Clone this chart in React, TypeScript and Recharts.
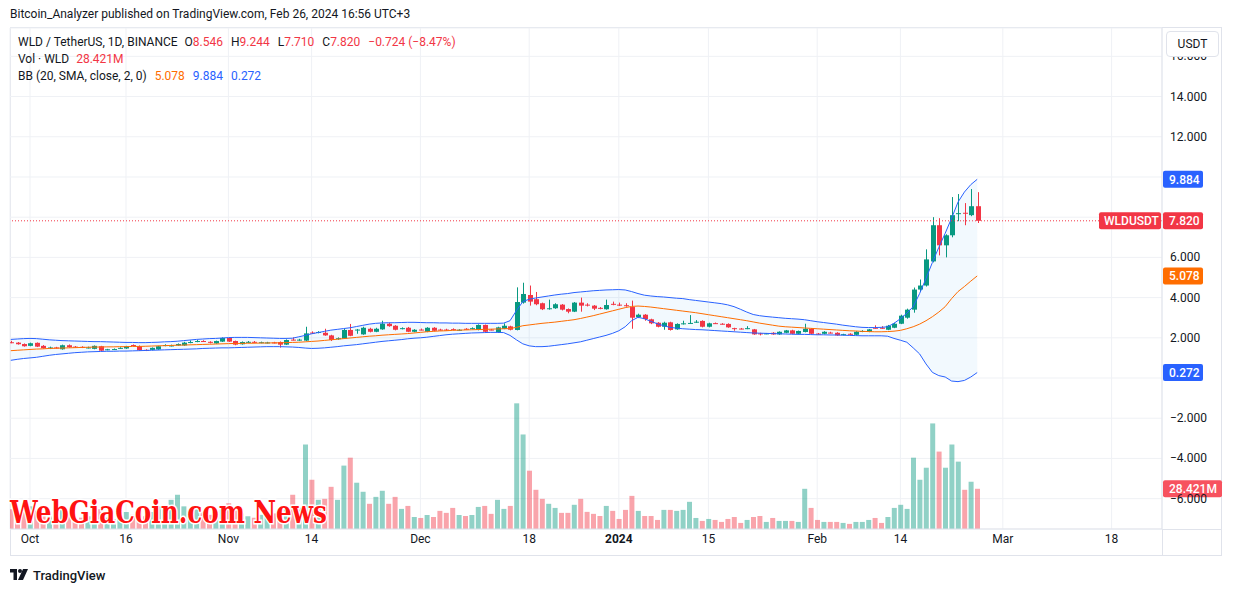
import React from "react";
import { ComposedChart, Bar, Line, Area, XAxis, YAxis, CartesianGrid, ReferenceLine, Cell } from "recharts";

// WLD/USDT daily, first candle = Sep 28 2023 (index 0), last = Feb 26 2024 (index 151)
// [open, high, low, close]
const ohlc: [number, number, number, number][] = [
  [1.78, 1.85, 1.73, 1.75], [1.76, 1.79, 1.66, 1.68], [1.69, 1.72, 1.56, 1.58], [1.60, 1.76, 1.58, 1.73], [1.75, 1.77, 1.54, 1.56],
  [1.60, 1.64, 1.46, 1.48], [1.49, 1.56, 1.44, 1.52], [1.52, 1.55, 1.47, 1.50], [1.43, 1.66, 1.41, 1.63], [1.63, 1.67, 1.51, 1.53],
  [1.56, 1.59, 1.51, 1.54], [1.55, 1.58, 1.49, 1.52], [1.50, 1.56, 1.47, 1.52], [1.45, 1.62, 1.43, 1.60], [1.58, 1.60, 1.34, 1.36],
  [1.41, 1.45, 1.38, 1.43], [1.42, 1.47, 1.40, 1.44], [1.48, 1.53, 1.45, 1.50], [1.47, 1.60, 1.45, 1.58], [1.64, 1.67, 1.60, 1.62],
  [1.58, 1.62, 1.36, 1.38], [1.40, 1.43, 1.34, 1.38], [1.40, 1.52, 1.38, 1.50], [1.42, 1.60, 1.40, 1.58], [1.62, 1.68, 1.58, 1.64],
  [1.60, 1.66, 1.57, 1.62], [1.62, 1.72, 1.60, 1.69], [1.62, 1.80, 1.60, 1.76], [1.77, 1.87, 1.73, 1.79], [1.82, 1.89, 1.78, 1.84],
  [1.84, 1.88, 1.80, 1.82], [1.80, 1.83, 1.72, 1.75], [1.72, 1.86, 1.70, 1.84], [1.81, 2.02, 1.79, 1.99], [1.99, 2.01, 1.79, 1.81],
  [1.84, 1.86, 1.63, 1.66], [1.68, 1.82, 1.66, 1.79], [1.78, 1.84, 1.75, 1.80], [1.80, 1.84, 1.75, 1.78], [1.76, 1.81, 1.73, 1.78],
  [1.75, 1.80, 1.72, 1.77], [1.77, 1.80, 1.72, 1.75], [1.79, 1.82, 1.51, 1.66], [1.66, 1.92, 1.64, 1.89], [1.91, 2.02, 1.87, 1.89],
  [1.88, 1.95, 1.85, 1.91], [1.86, 2.55, 1.84, 2.22], [2.26, 2.32, 2.19, 2.24], [2.27, 2.33, 2.22, 2.29], [2.25, 2.45, 2.10, 2.12],
  [2.12, 2.15, 1.84, 1.89], [1.95, 2.02, 1.90, 1.98], [1.96, 2.44, 1.94, 2.39], [2.39, 2.69, 2.08, 2.10], [2.39, 2.44, 2.20, 2.41],
  [2.17, 2.55, 2.15, 2.50], [2.45, 2.50, 2.27, 2.30], [2.30, 2.50, 2.28, 2.45], [2.42, 2.85, 2.40, 2.70], [2.70, 2.74, 2.55, 2.58],
  [2.60, 2.63, 2.37, 2.40], [2.45, 2.52, 2.42, 2.48], [2.50, 2.54, 2.28, 2.30], [2.30, 2.43, 2.28, 2.40], [2.41, 2.46, 2.37, 2.39],
  [2.30, 2.53, 2.28, 2.50], [2.50, 2.53, 2.33, 2.35], [2.41, 2.45, 2.37, 2.39], [2.41, 2.45, 2.36, 2.39], [2.43, 2.47, 2.38, 2.41],
  [2.38, 2.43, 2.35, 2.40], [2.45, 2.48, 2.41, 2.43], [2.45, 2.52, 2.43, 2.48], [2.39, 2.67, 2.37, 2.64], [2.64, 2.66, 2.26, 2.30],
  [2.41, 2.44, 2.37, 2.39], [2.27, 2.55, 2.25, 2.52], [2.45, 2.72, 2.43, 2.60], [2.57, 2.60, 2.37, 2.40], [2.39, 4.51, 2.37, 3.78],
  [3.75, 4.74, 3.70, 4.18], [4.13, 4.60, 3.60, 3.80], [3.92, 4.28, 3.62, 3.67], [3.72, 3.75, 3.38, 3.42], [3.45, 3.90, 3.40, 3.47],
  [3.47, 3.72, 3.44, 3.67], [3.65, 3.68, 3.36, 3.40], [3.43, 3.46, 3.22, 3.30], [3.30, 3.78, 3.28, 3.75], [3.75, 4.00, 3.30, 3.60],
  [3.65, 3.72, 3.56, 3.63], [3.60, 3.63, 3.38, 3.45], [3.49, 3.53, 3.42, 3.47], [3.42, 3.90, 3.40, 3.63], [3.69, 3.80, 3.62, 3.67],
  [3.65, 3.75, 3.58, 3.63], [3.62, 3.72, 3.55, 3.60], [3.53, 3.85, 2.45, 3.00], [3.02, 3.20, 2.98, 3.15], [3.15, 3.18, 2.85, 2.93],
  [2.92, 2.95, 2.68, 2.72], [2.75, 2.78, 2.52, 2.55], [2.55, 2.80, 2.40, 2.75], [2.77, 2.80, 2.36, 2.39], [2.42, 2.72, 2.40, 2.69],
  [2.70, 2.85, 2.66, 2.72], [2.72, 3.13, 2.69, 2.74], [2.78, 2.88, 2.74, 2.80], [2.84, 2.87, 2.52, 2.55], [2.55, 2.75, 2.52, 2.72],
  [2.73, 2.76, 2.69, 2.71], [2.70, 2.73, 2.66, 2.68], [2.69, 2.72, 2.50, 2.52], [2.48, 2.50, 2.35, 2.46], [2.46, 2.49, 2.42, 2.44],
  [2.46, 2.58, 2.43, 2.48], [2.42, 2.44, 2.15, 2.17], [2.22, 2.25, 2.12, 2.20], [2.20, 2.24, 2.18, 2.22], [2.25, 2.28, 2.15, 2.17],
  [2.17, 2.32, 2.15, 2.30], [2.25, 2.39, 2.23, 2.37], [2.37, 2.40, 2.18, 2.20], [2.20, 2.36, 2.18, 2.34], [2.29, 2.70, 2.27, 2.45],
  [2.45, 2.48, 2.18, 2.20], [2.21, 2.24, 2.17, 2.19], [2.20, 2.33, 2.18, 2.30], [2.26, 2.30, 2.22, 2.24], [2.25, 2.28, 2.10, 2.12],
  [2.16, 2.20, 2.13, 2.18], [2.20, 2.23, 2.15, 2.18], [2.15, 2.33, 2.13, 2.30], [2.32, 2.38, 2.28, 2.34], [2.30, 2.44, 2.28, 2.42],
  [2.50, 2.62, 2.46, 2.48], [2.50, 2.58, 2.45, 2.48], [2.40, 2.64, 2.38, 2.60], [2.50, 2.75, 2.48, 2.70], [2.70, 3.15, 2.68, 3.10],
  [3.00, 3.45, 2.95, 3.40], [3.40, 4.50, 3.25, 4.40], [4.40, 4.90, 4.30, 4.60], [4.60, 6.40, 4.55, 5.90], [5.80, 8.00, 5.75, 7.60],
  [7.60, 7.95, 6.10, 6.60], [6.60, 7.15, 6.00, 7.10], [7.10, 9.00, 7.00, 8.10], [8.15, 9.15, 7.80, 8.20], [8.22, 8.70, 7.60, 8.17],
  [8.10, 9.40, 8.05, 8.546], [8.546, 9.244, 7.71, 7.82],
];

// volume, millions of WLD
const volume = [
  14, 11, 12, 16, 13, 12, 9, 8, 15, 11,
  7, 8, 9, 12, 14, 8, 7, 9, 12, 10,
  13, 9, 12, 16, 14, 20.6, 24.2, 16, 13, 14,
  12, 10, 13, 15, 18.2, 13, 11, 9, 8, 10,
  9, 11, 13, 15, 24.2, 15, 59.7, 34.8, 20.6, 21.3,
  29.8, 20.6, 44.8, 50.4, 32.7, 26.3, 17.8, 22.7, 27.0, 17.8,
  22.7, 14.2, 16.3, 8.5, 7.8, 9.9, 8.5, 12.8, 11.4, 14.9,
  9.9, 9.2, 9.9, 15.6, 16.3, 10.7, 20.6, 14.2, 16.3, 88.8,
  66.8, 41.2, 27.7, 21.3, 17.8, 14.9, 11.4, 11.4, 17.1, 21.3,
  12.1, 10.7, 9.2, 16.3, 12.8, 7.1, 13.5, 23.4, 12.8, 9.2,
  9.2, 6.4, 13.5, 13.5, 12.8, 13.5, 19.2, 7.8, 5.7, 7.1,
  6.4, 5.0, 7.1, 8.5, 4.3, 6.4, 8.5, 9.2, 5.0, 7.8,
  5.7, 5.7, 5.7, 5.0, 28.4, 14.9, 6.4, 5.0, 5.0, 5.0,
  4.3, 3.6, 5.0, 5.0, 6.4, 7.8, 4.3, 8.5, 14.9, 17.1,
  14.2, 50.4, 34.8, 43.3, 74.6, 54.7, 43.3, 59.7, 47.6, 27.7,
  33.4, 28.421,
];

const bbUpper = [
  1.92, 1.94, 1.96, 1.97, 1.96, 1.93, 1.90, 1.88, 1.86, 1.85,
  1.84, 1.83, 1.82, 1.81, 1.81, 1.80, 1.79, 1.78, 1.77, 1.77,
  1.76, 1.76, 1.77, 1.78, 1.80, 1.81, 1.83, 1.86, 1.89, 1.92,
  1.94, 1.96, 1.97, 1.99, 2.01, 2.02, 2.02, 2.02, 2.01, 2.00,
  1.99, 1.98, 1.97, 1.97, 1.98, 2.05, 2.12, 2.20, 2.26, 2.32,
  2.38, 2.42, 2.46, 2.50, 2.56, 2.62, 2.68, 2.72, 2.74, 2.75,
  2.75, 2.76, 2.77, 2.77, 2.76, 2.75, 2.75, 2.74, 2.74, 2.73,
  2.73, 2.72, 2.72, 2.72, 2.72, 2.72, 2.72, 2.73, 2.85, 3.35,
  3.80, 3.92, 3.98, 4.03, 4.08, 4.13, 4.17, 4.20, 4.25, 4.28,
  4.31, 4.34, 4.36, 4.38, 4.39, 4.40, 4.38, 4.30, 4.20, 4.12,
  4.08, 4.05, 4.03, 4.00, 3.97, 3.95, 3.90, 3.86, 3.82, 3.78,
  3.74, 3.70, 3.64, 3.55, 3.42, 3.28, 3.16, 3.10, 3.06, 3.03,
  3.00, 2.97, 2.95, 2.93, 2.90, 2.85, 2.80, 2.76, 2.72, 2.68,
  2.63, 2.59, 2.55, 2.52, 2.51, 2.51, 2.52, 2.55, 2.72, 2.95,
  3.22, 3.55, 4.20, 4.95, 5.75, 6.50, 7.20, 7.95, 8.75, 9.25,
  9.62, 9.884,
];

const bbBasis = [
  1.36, 1.38, 1.40, 1.42, 1.44, 1.45, 1.47, 1.48, 1.49, 1.50,
  1.51, 1.52, 1.53, 1.54, 1.54, 1.55, 1.55, 1.56, 1.56, 1.57,
  1.57, 1.58, 1.59, 1.60, 1.61, 1.62, 1.63, 1.64, 1.65, 1.66,
  1.67, 1.68, 1.69, 1.70, 1.71, 1.72, 1.72, 1.73, 1.73, 1.74,
  1.74, 1.75, 1.75, 1.76, 1.77, 1.78, 1.80, 1.82, 1.84, 1.87,
  1.90, 1.93, 1.96, 1.99, 2.02, 2.05, 2.08, 2.10, 2.13, 2.15,
  2.17, 2.19, 2.21, 2.24, 2.27, 2.30, 2.32, 2.34, 2.35, 2.37,
  2.38, 2.39, 2.40, 2.41, 2.42, 2.43, 2.44, 2.45, 2.46, 2.52,
  2.60, 2.64, 2.68, 2.72, 2.75, 2.78, 2.82, 2.86, 2.90, 2.96,
  3.03, 3.10, 3.18, 3.26, 3.34, 3.42, 3.50, 3.56, 3.58, 3.56,
  3.53, 3.49, 3.45, 3.41, 3.37, 3.33, 3.29, 3.25, 3.20, 3.15,
  3.10, 3.05, 3.00, 2.95, 2.90, 2.85, 2.79, 2.73, 2.68, 2.63,
  2.58, 2.55, 2.53, 2.51, 2.49, 2.47, 2.45, 2.43, 2.41, 2.39,
  2.37, 2.35, 2.34, 2.32, 2.31, 2.30, 2.30, 2.31, 2.33, 2.37,
  2.45, 2.55, 2.68, 2.85, 3.05, 3.28, 3.55, 3.95, 4.30, 4.55,
  4.82, 5.078,
];

const bbLower = [
  0.88, 0.93, 0.97, 1.00, 1.03, 1.08, 1.13, 1.17, 1.20, 1.23,
  1.26, 1.28, 1.30, 1.31, 1.32, 1.33, 1.33, 1.34, 1.34, 1.35,
  1.36, 1.37, 1.38, 1.39, 1.40, 1.41, 1.42, 1.43, 1.44, 1.45,
  1.47, 1.48, 1.49, 1.50, 1.50, 1.51, 1.52, 1.53, 1.54, 1.55,
  1.56, 1.56, 1.56, 1.55, 1.54, 1.52, 1.49, 1.47, 1.48, 1.50,
  1.53, 1.56, 1.60, 1.63, 1.66, 1.70, 1.74, 1.78, 1.82, 1.85,
  1.88, 1.91, 1.95, 1.98, 2.00, 2.03, 2.07, 2.11, 2.15, 2.18,
  2.20, 2.22, 2.24, 2.25, 2.26, 2.27, 2.27, 2.26, 2.12, 1.90,
  1.70, 1.60, 1.56, 1.56, 1.58, 1.62, 1.66, 1.70, 1.75, 1.80,
  1.88, 1.96, 2.04, 2.12, 2.22, 2.35, 2.55, 2.85, 3.02, 2.95,
  2.82, 2.70, 2.60, 2.52, 2.48, 2.45, 2.43, 2.41, 2.40, 2.38,
  2.36, 2.34, 2.32, 2.30, 2.28, 2.26, 2.24, 2.23, 2.22, 2.21,
  2.20, 2.19, 2.18, 2.17, 2.17, 2.16, 2.15, 2.15, 2.14, 2.14,
  2.13, 2.12, 2.11, 2.10, 2.10, 2.10, 2.10, 2.08, 1.97, 1.88,
  1.78, 1.50, 1.20, 0.70, 0.28, 0.12, 0.05, -0.15, -0.18, -0.12,
  0.05, 0.272,
];

// x-axis: candle index of each labelled date
const dateTicks = [3, 18, 34, 47, 64, 81, 95, 109, 126, 139, 155, 172];
const dateLabels = ["Oct", "16", "Nov", "14", "Dec", "18", "2024", "15", "Feb", "14", "Mar", "18"];
const priceTicks = [-6, -4, -2, 0, 2, 4, 6, 8, 10, 12, 14, 16];

const UP = "#089981";
const DOWN = "#f23645";
const BLUE = "#2962ff";
const ORANGE = "#ff6d00";
const FONT = "Roboto, 'Noto Sans', sans-serif";

const last = ohlc.length - 1;
const lastClose = ohlc[last][3];
const lastVol = volume[last];
// price tags on the right scale hide the tick labels they sit on
const tagValues = [lastClose, bbUpper[last], bbBasis[last], bbLower[last]];

const data = ohlc.map(([o, h, l, c], i) => ({
  i, o, h, l, c,
  hl: [l, h],
  vol: volume[i],
  upper: bbUpper[i],
  basis: bbBasis[i],
  lower: bbLower[i],
  band: [bbLower[i], bbUpper[i]],
}));

function Candle(props: any) {
  const { x, y, width, height, payload } = props;
  const { o, h, l, c } = payload;
  const color = c >= o ? UP : DOWN;
  const top0 = Math.min(y, y + height);
  const span = Math.abs(height);
  const ppu = h > l ? span / (h - l) : 0;
  const cx = Math.round(x + width / 2) + 0.5;
  const bTop = top0 + (h - Math.max(o, c)) * ppu;
  const bBot = top0 + (h - Math.min(o, c)) * ppu;
  return (
    <g>
      <line x1={cx} x2={cx} y1={top0} y2={top0 + span} stroke={color} strokeWidth={1} />
      <rect x={cx - 2.5} y={bTop} width={5} height={Math.max(1, bBot - bTop)} fill={color} />
    </g>
  );
}

function tag(text: string, bg: string, w = 40) {
  return (props: any) => {
    const vb = props.viewBox || {};
    const x = vb.x + vb.width + 1;
    const y = vb.y;
    return (
      <g>
        <rect x={x} y={y - 8.5} width={w} height={17} rx={2} fill={bg} />
        <text x={x + 6} y={y + 4.5} fill="#fff" fontSize={12} fontFamily={FONT} fontWeight={500}>{text}</text>
      </g>
    );
  };
}

function lastPriceTag(props: any) {
  const vb = props.viewBox || {};
  const right = vb.x + vb.width;
  const y = vb.y;
  return (
    <g>
      <rect x={right - 63} y={y - 8.5} width={62} height={17} rx={2} fill={DOWN} />
      <text x={right - 58} y={y + 4.5} fill="#fff" fontSize={12} fontFamily={FONT} fontWeight={500}>WLDUSDT</text>
      <rect x={right + 1} y={y - 8.5} width={40} height={17} rx={2} fill={DOWN} />
      <text x={right + 7} y={y + 4.5} fill="#fff" fontSize={12} fontFamily={FONT} fontWeight={500}>{lastClose.toFixed(3)}</text>
    </g>
  );
}

function PriceTick(props: any) {
  const { x, y, payload } = props;
  const v = payload.value;
  if (tagValues.some((t) => Math.abs(t - v) < 0.5)) return <g />;
  const s = (v < 0 ? "\u2212" : "") + Math.abs(v).toFixed(3);
  return (
    <text x={x} y={y + 4} fontSize={12} fill="#131722" fontFamily={FONT} textAnchor="start">{s}</text>
  );
}

function DateTick(props: any) {
  const { x, y, payload } = props;
  const k = dateTicks.indexOf(payload.value);
  const label = dateLabels[k];
  return (
    <text x={x} y={y + 4} fontSize={12} fill="#131722" fontFamily={FONT} textAnchor="middle"
      fontWeight={label === "2024" ? 700 : 400}>{label}</text>
  );
}

const xDomain = [-0.125, 179.875];

export default function App() {
  return (
    <div style={{ position: "absolute", left: 0, top: 0, width: 1233, height: 592, background: "#fff", fontFamily: FONT, color: "#131722", overflow: "hidden" }}>
      <div style={{ position: "absolute", left: 10, top: 7, fontSize: 12, whiteSpace: "nowrap" }}>
        Bitcoin_Analyzer published on TradingView.com, Feb 26, 2024 16:56 UTC+3
      </div>
      {/* frame */}
      <div style={{ position: "absolute", left: 10, top: 27, width: 1212, height: 529, border: "1px solid #e0e3eb", boxSizing: "border-box" }} />
      <div style={{ position: "absolute", left: 1162, top: 529, width: 60, height: 1, background: "#e0e3eb" }} />
      <div style={{ position: "absolute", left: 1162, top: 529, width: 1, height: 27, background: "#e0e3eb" }} />

      <div style={{ position: "absolute", left: 0, top: 0 }}>
        <ComposedChart width={1233} height={592} data={data} margin={{ top: 28, right: 11, bottom: 36, left: 10 }}>
          <XAxis xAxisId="main" dataKey="i" type="number" domain={xDomain} allowDataOverflow ticks={dateTicks} interval={0}
            tick={<DateTick />} tickLine={false} tickSize={0} tickMargin={10} height={27}
            axisLine={{ stroke: "#e0e3eb" }} />
          <XAxis xAxisId="vx" dataKey="i" type="number" domain={xDomain} allowDataOverflow hide />
          <YAxis yAxisId="price" orientation="right" type="number" domain={[-7.51, 17.41]} allowDataOverflow ticks={priceTicks}
            interval={0} tick={<PriceTick />} tickLine={false} tickSize={0} tickMargin={8} width={60}
            axisLine={{ stroke: "#e0e3eb" }} />
          <YAxis yAxisId="vol" type="number" domain={[0, 354]} allowDataOverflow hide />
          <CartesianGrid xAxisId="main" yAxisId="price" stroke="#eff1f5" />

          <Bar xAxisId="vx" yAxisId="vol" dataKey="vol" barSize={5} isAnimationActive={false}>
            {data.map((d) => (
              <Cell key={d.i} fill={d.c >= d.o ? UP : DOWN} fillOpacity={0.45} />
            ))}
          </Bar>
          <Area xAxisId="main" yAxisId="price" dataKey="band" type="linear" stroke="none" fill="#2196f3" fillOpacity={0.06}
            isAnimationActive={false} activeDot={false} />
          <Line xAxisId="main" yAxisId="price" dataKey="upper" type="linear" stroke={BLUE} strokeWidth={1} dot={false} isAnimationActive={false} />
          <Line xAxisId="main" yAxisId="price" dataKey="lower" type="linear" stroke={BLUE} strokeWidth={1} dot={false} isAnimationActive={false} />
          <Line xAxisId="main" yAxisId="price" dataKey="basis" type="linear" stroke={ORANGE} strokeWidth={1} dot={false} isAnimationActive={false} />
          <Bar xAxisId="main" yAxisId="price" dataKey="hl" barSize={5} shape={<Candle />} isAnimationActive={false} />

          <ReferenceLine xAxisId="main" yAxisId="price" y={lastClose} stroke={DOWN} strokeWidth={1} strokeDasharray="1 2" label={lastPriceTag} />
          <ReferenceLine xAxisId="main" yAxisId="price" y={bbUpper[last]} stroke="none" label={tag(bbUpper[last].toFixed(3), BLUE)} />
          <ReferenceLine xAxisId="main" yAxisId="price" y={bbBasis[last]} stroke="none" label={tag(bbBasis[last].toFixed(3), ORANGE)} />
          <ReferenceLine xAxisId="main" yAxisId="price" y={bbLower[last]} stroke="none" label={tag(bbLower[last].toFixed(3), BLUE)} />
          <ReferenceLine xAxisId="vx" yAxisId="vol" y={lastVol} stroke="none" label={tag(lastVol.toFixed(3) + "M", "#f7525f", 59)} />
        </ComposedChart>
      </div>

      {/* legend */}
      <div style={{ position: "absolute", left: 18, top: 34, fontSize: 12, lineHeight: "17px", whiteSpace: "nowrap" }}>
        <div>
          WLD / TetherUS, 1D, BINANCE
          <span style={{ marginLeft: 7 }}>O</span><span style={{ color: DOWN }}>8.546</span>
          <span style={{ marginLeft: 8 }}>H</span><span style={{ color: DOWN }}>9.244</span>
          <span style={{ marginLeft: 8 }}>L</span><span style={{ color: DOWN }}>7.710</span>
          <span style={{ marginLeft: 8 }}>C</span><span style={{ color: DOWN }}>7.820</span>
          <span style={{ marginLeft: 8, color: DOWN }}>{"\u22120.724 (\u22128.47%)"}</span>
        </div>
        <div>
          Vol · WLD <span style={{ marginLeft: 4, color: DOWN }}>28.421M</span>
        </div>
        <div>
          BB (20, SMA, close, 2, 0)
          <span style={{ marginLeft: 8, color: ORANGE }}>5.078</span>
          <span style={{ marginLeft: 8, color: BLUE }}>9.884</span>
          <span style={{ marginLeft: 8, color: BLUE }}>0.272</span>
        </div>
      </div>

      {/* currency button */}
      <div style={{ position: "absolute", left: 1166, top: 31, width: 53, height: 26, background: "#fff", border: "1px solid #e0e3eb", borderRadius: 4,
        boxSizing: "border-box", fontSize: 12, display: "flex", alignItems: "center", justifyContent: "center" }}>USDT</div>

      {/* watermark and footer logo */}
      <svg style={{ position: "absolute", left: 0, top: 0 }} width={1233} height={592}>
        <text x={10} y={523} fontFamily="'DejaVu Serif', serif" fontWeight={700} fontSize={31} fill="#ff1212"
          stroke="#fff" strokeWidth={3} paintOrder="stroke" textLength={317} lengthAdjust="spacingAndGlyphs">WebGiaCoin.com News</text>
        <g transform="translate(10,569)" fill="#131722">
          <path d="M0 0h7v11H3.5V3.5H0z" />
          <circle cx={10} cy={2} r={2} />
          <path d="M13 0h5l-5 11h-5z" />
        </g>
        <text x={33} y={580} fontFamily={FONT} fontSize={13} fontWeight={500} fill="#131722">TradingView</text>
      </svg>
    </div>
  );
}
